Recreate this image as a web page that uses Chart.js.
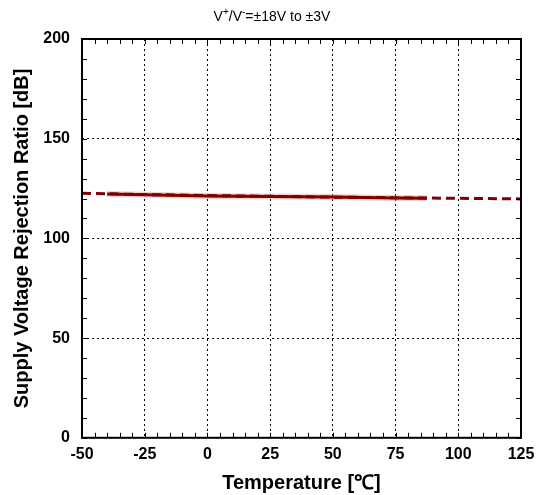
<!DOCTYPE html>
<html>
<head>
<meta charset="utf-8">
<script src="https://cdn.jsdelivr.net/npm/chart.js@4"></script>
<style>
  html, body { margin: 0; padding: 0; background: #fff; }
  #wrap { width: 542px; height: 495px; }
</style>
</head>
<body>
<div id="wrap"><canvas id="c"></canvas></div>
<script>
// data
const dashTemps = [-50, -25, 0, 25, 50, 75, 100, 125];
const dashSvrr  = [122.6, 122.0, 121.5, 121.1, 120.7, 120.4, 120.1, 119.8];
const solidTemps = [-40, -25, 0, 25, 50, 75, 87.5];
const solidSvrr  = [122.3, 121.9, 121.3, 121.0, 120.7, 120.3, 120.1];
const xTicks = [-50, -25, 0, 25, 50, 75, 100, 125];
const yTicks = [0, 50, 100, 150, 200];

const toPts = (xs, ys) => xs.map((x, i) => ({ x: x, y: ys[i] }));
const FONT = '"Liberation Sans", Arial, sans-serif';

// small inward ticks on all four sides of the frame
const innerTicks = {
  id: 'innerTicks',
  afterDatasetsDraw(chart) {
    const { ctx, chartArea: a, scales: { x, y } } = chart;
    ctx.save();
    ctx.strokeStyle = '#000';
    ctx.lineWidth = 1;
    ctx.beginPath();
    for (let v = -50; v <= 125; v += 5) {
      const px = Math.round(x.getPixelForValue(v)) + 0.5;
      ctx.moveTo(px, a.bottom); ctx.lineTo(px, a.bottom - 5);
      ctx.moveTo(px, a.top); ctx.lineTo(px, a.top + 5);
    }
    for (let v = 0; v <= 200; v += 10) {
      const py = Math.round(y.getPixelForValue(v)) + 0.5;
      ctx.moveTo(a.left, py); ctx.lineTo(a.left + 5, py);
      ctx.moveTo(a.right, py); ctx.lineTo(a.right - 5, py);
    }
    ctx.stroke();
    ctx.lineWidth = 2;
    ctx.strokeRect(a.left, a.top, a.right - a.left, a.bottom - a.top);
    ctx.restore();
  }
};

// title with small raised + and - signs
const topTitle = {
  id: 'topTitle',
  afterDraw(chart) {
    const ctx = chart.ctx;
    const parts = [
      ['V', false], ['+', true], ['/V', false], ['-', true], ['=\u00B118V to \u00B13V', false]
    ];
    const big = '14px ' + FONT, small = '10px ' + FONT;
    ctx.save();
    ctx.fillStyle = '#000';
    ctx.textBaseline = 'alphabetic';
    let w = 0;
    parts.forEach(p => { ctx.font = p[1] ? small : big; w += ctx.measureText(p[0]).width; });
    let x = chart.width / 2 - w / 2 + 1;
    const base = 21;
    parts.forEach(p => {
      ctx.font = p[1] ? small : big;
      ctx.fillText(p[0], x, p[1] ? base - 6 : base);
      x += ctx.measureText(p[0]).width;
    });
    ctx.restore();
  }
};

new Chart(document.getElementById('c'), {
  type: 'scatter',
  data: {
    datasets: [
      {
        data: toPts(solidTemps, solidSvrr),
        showLine: true,
        borderColor: '#800000',
        borderWidth: 3,
        pointRadius: 0,
        tension: 0,
        order: 1
      },
      {
        data: toPts(dashTemps, dashSvrr),
        showLine: true,
        borderColor: '#7f0000',
        borderWidth: 3,
        borderDash: [9, 5],
        pointRadius: 0,
        tension: 0,
        order: 2
      },
      {
        data: toPts(solidTemps, solidSvrr),
        showLine: true,
        borderColor: 'rgba(225, 150, 150, 0.45)',
        borderWidth: 6,
        pointRadius: 0,
        tension: 0,
        order: 3
      }
    ]
  },
  options: {
    responsive: true,
    maintainAspectRatio: false,
    animation: false,
    layout: { padding: { left: 10, right: 21, top: 39, bottom: 0 } },
    plugins: {
      legend: { display: false },
      tooltip: { enabled: false },
      title: { display: false }
    },
    scales: {
      x: {
        type: 'linear',
        min: -50,
        max: 125,
        afterBuildTicks: s => { s.ticks = xTicks.map(v => ({ value: v })); },
        ticks: { color: '#000', font: { family: FONT, size: 16, weight: 'bold' }, padding: 7, maxRotation: 0 },
        grid: { color: '#000', lineWidth: 1, drawTicks: false },
        border: { display: false, dash: [2, 3] },
        title: {
          display: true,
          text: 'Temperature [\u2103]',
          color: '#000',
          font: { family: FONT, size: 20, weight: 'bold' },
          padding: { top: 0, bottom: 0 }
        }
      },
      y: {
        type: 'linear',
        min: 0,
        max: 200,
        afterBuildTicks: s => { s.ticks = yTicks.map(v => ({ value: v })); },
        afterFit: s => { s.width = 72; },
        ticks: { color: '#000', font: { family: FONT, size: 16, weight: 'bold' }, padding: 12 },
        grid: { color: '#000', lineWidth: 1, drawTicks: false },
        border: { display: false, dash: [2, 3] },
        title: {
          display: true,
          text: 'Supply Voltage Rejection Ratio [dB]',
          color: '#000',
          font: { family: FONT, size: 20, weight: 'bold' },
          padding: { top: 0, bottom: 0 }
        }
      }
    }
  },
  plugins: [innerTicks, topTitle]
});
</script>
</body>
</html>
